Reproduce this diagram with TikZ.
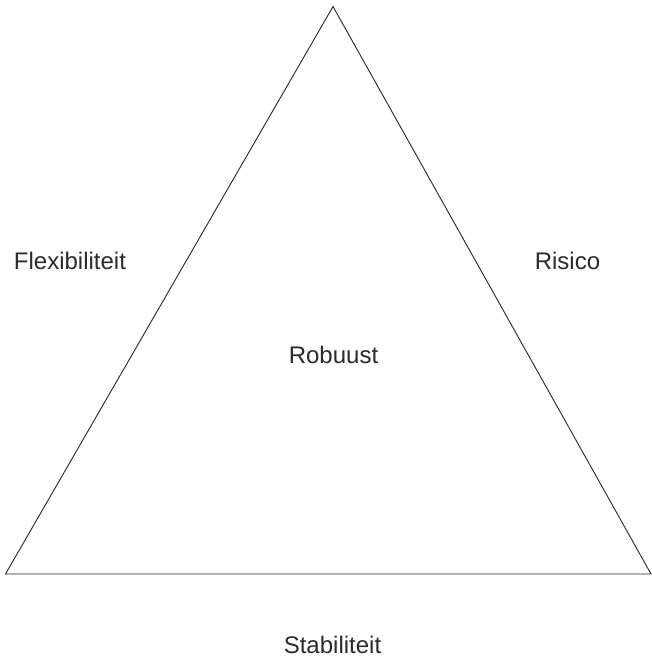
\documentclass[tikz,border=0pt]{standalone}
\usepackage{fontspec}
\setmainfont{Liberation Sans}
\definecolor{txt}{HTML}{2B2B2B}
\begin{document}
\begin{tikzpicture}[x=1pt,y=-1pt,
  lbl/.style={text=txt,font=\fontsize{24}{28}\selectfont,inner sep=0pt,anchor=base},
  edge/.style={draw=black!85,line width=0.9pt}]
\useasboundingbox (0,0) rectangle (652,658);
\coordinate (top) at (333,6.5);
\coordinate (bl) at (5.5,574);
\coordinate (br) at (651,574);
\draw[edge,line join=miter] (top) -- (br) -- (bl) -- cycle;
\node[lbl] (flex) at (70,269) {Flexibiliteit};
\node[lbl] (ris) at (567.5,269) {Risico};
\node[lbl] (rob) at (333.5,363) {Robuust};
\node[lbl] (stab) at (332.5,653) {Stabiliteit};
\end{tikzpicture}
\end{document}
